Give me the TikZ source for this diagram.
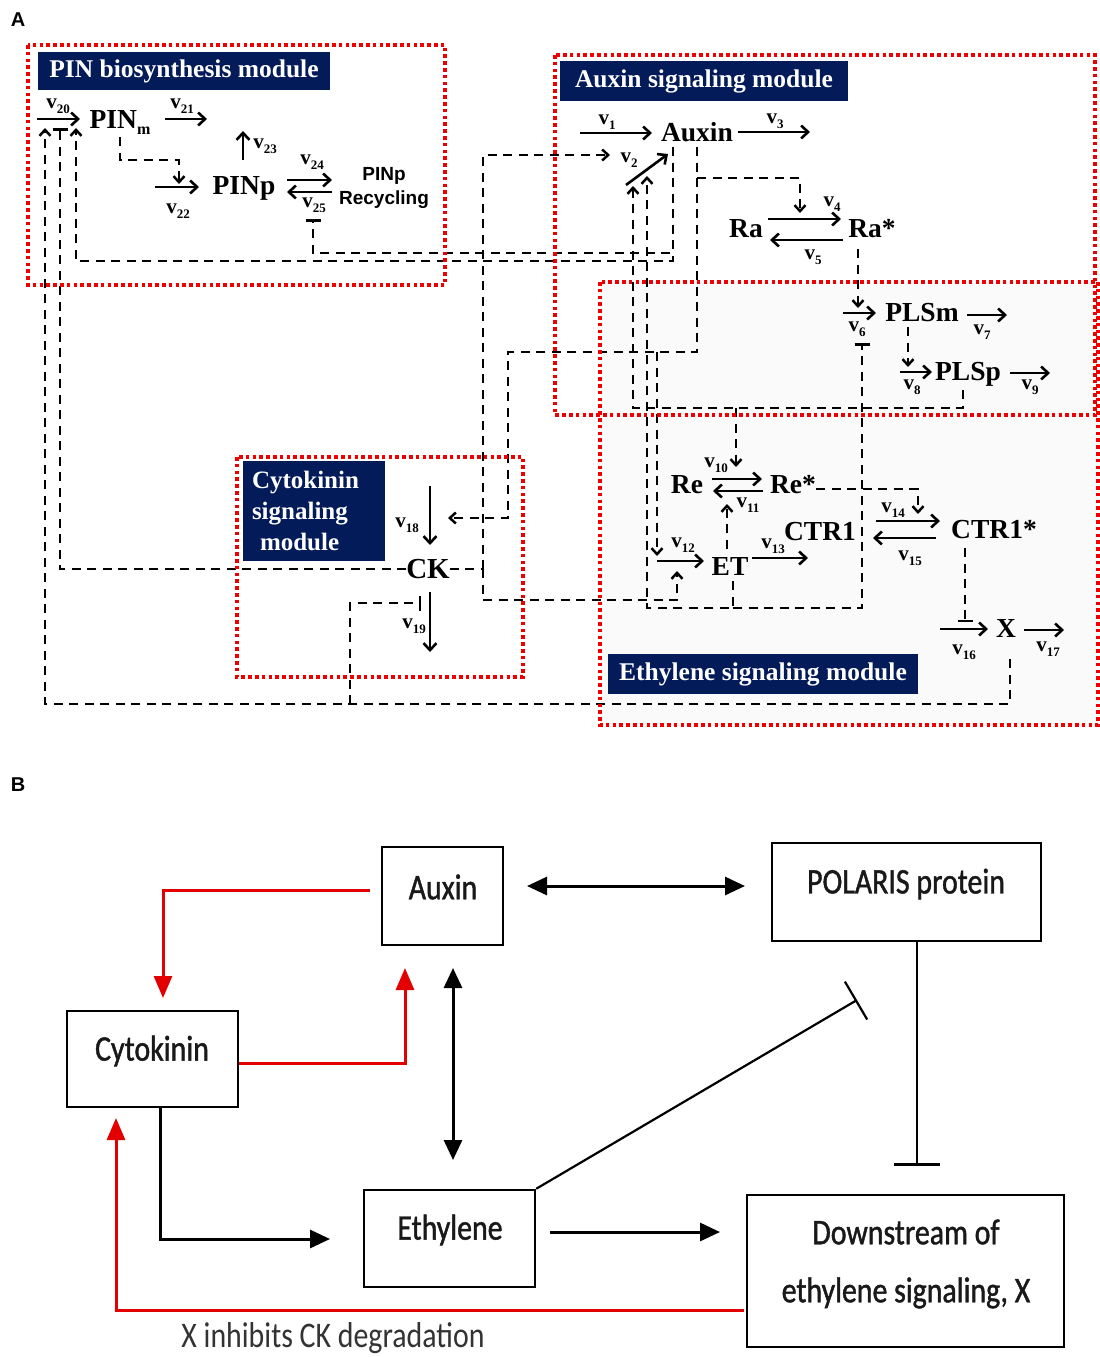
\documentclass[tikz,border=0pt]{standalone}
\usepackage{fontspec}
\setmainfont{Liberation Serif}
\newfontfamily\arialf{Liberation Sans}
\newfontfamily\carl[FakeStretch=0.83,FakeBold=1.2]{Carlito}
\newfontfamily\carlr[FakeStretch=0.83]{Carlito}
\usetikzlibrary{arrows.meta,calc}
\definecolor{navy}{RGB}{3,27,89}
\definecolor{rd}{RGB}{238,0,0}
\definecolor{bred}{RGB}{226,0,0}
\newcommand\vlab[1]{{\fontsize{21}{21}\selectfont v}\raisebox{-5pt}{\fontsize{13}{13}\selectfont #1}}
\begin{document}
\begin{tikzpicture}[x=1pt,y=-1pt,
  modbox/.style={draw=rd,line width=3.6pt,dash pattern=on 3.6pt off 3.2pt},
  ttl/.style={fill=navy,text=white,font=\fontsize{25.5}{25.5}\selectfont\bfseries,inner sep=0pt},
  sp/.style={font=\fontsize{27.5}{27.5}\selectfont\bfseries,inner sep=0pt,text height=18pt,text depth=0pt},
  lab/.style={inner sep=0pt,font=\bfseries},
  rx/.style={line width=2.6pt,-{Straight Barb[length=7pt,width=13pt]}},
  dk/.style={line width=2.5pt,dash pattern=on 9pt off 6.5pt},
  dka/.style={dk,-{Straight Barb[length=6pt,width=11pt]}},
  dkt/.style={dk,-{Bar[width=15pt]}},
  bx/.style={draw,line width=2.5pt,inner sep=0pt},
  btx/.style={font=\carl\fontsize{36}{36}\selectfont,inner sep=0pt,text=black!90},
  barr/.style={line width=3pt,-{Triangle[length=20pt,width=18pt]}},
  barrd/.style={line width=3pt,{Triangle[length=20pt,width=18pt]}-{Triangle[length=20pt,width=18pt]}},
  rarr/.style={bred,line width=3pt,-{Triangle[length=22pt,width=18pt]}},
  inh/.style={line width=2.2pt,-{Bar[width=44pt,line width=2.2pt]}},
  inhv/.style={line width=2.2pt,-{Bar[width=46pt,line width=2.6pt]}}
]
\useasboundingbox (0,0) rectangle (1100,1357);
\fill[white] (0,0) rectangle (1100,1357);

% ---------------- Panel A ----------------
\node[font=\arialf\bfseries\fontsize{20}{20}\selectfont,inner sep=0pt] (lA) at (18,20) {A};
\fill[black!2] (600,282) rectangle (1098,725);

% species
\node[sp] (PINm) at (120,119) {PIN\raisebox{-6pt}{\fontsize{16}{16}\selectfont m}};
\node[sp] (PINp) at (244,185) {PINp};
\node[inner sep=0pt,align=center,font=\arialf\bfseries\fontsize{19}{24}\selectfont] (Rec) at (384,188) {PINp\\Recycling};
\node[sp] (Auxin) at (697,132) {Auxin};
\node[sp] (Ra) at (746,228) {Ra};
\node[sp] (Ras) at (872,228) {Ra*};
\node[sp] (PLSm) at (922,312) {PLSm};
\node[sp] (PLSp) at (968,371) {PLSp};
\node[sp] (Re) at (687,484) {Re};
\node[sp] (Res) at (793,484) {Re*};
\node[sp] (CTR) at (820,531) {CTR1};
\node[sp] (CTRs) at (994,529) {CTR1*};
\node[sp] (ET) at (730,566) {ET};
\node[sp,font=\fontsize{29}{29}\selectfont\bfseries] (CK) at (428,569) {CK};
\node[sp] (X) at (1006,628) {X};

% endpoints of regulatory connectors
\coordinate (r20a) at (45,128);
\coordinate (r20b) at (60,128);
\coordinate (r20c) at (76,128);
\coordinate (r22) at (179,184);
\coordinate (r25) at (313,219);
\coordinate (r2a) at (610,155);
\coordinate (r2b) at (633,186);
\coordinate (r2c) at (647,176);
\coordinate (r4) at (800,213);
\coordinate (r6) at (858,308);
\coordinate (r6T) at (862,343);
\coordinate (r8) at (908,367);
\coordinate (r10) at (736,467);
\coordinate (r11) at (727,504);
\coordinate (r12a) at (657,556);
\coordinate (r12b) at (677,571);
\coordinate (r14) at (918,514);
\coordinate (r16) at (965,622);
\coordinate (r18) at (448,518);
\coordinate (r19) at (421,603);

% reaction arrows
\draw[rx] (37,119) -- (80,119);
\draw[rx] (165,119) -- (207,119);
\draw[rx] (243,160) -- (243,131);
\draw[rx] (155,187) -- (199,187);
\draw[rx] (287,180) -- (332,180);
\draw[rx] (332,192) -- (287,192);
\draw[rx] (580,133) -- (652,133);
\draw[rx] (738,132) -- (810,132);
\draw[rx] (626,185) -- (668,154);
\draw[rx] (768,219) -- (841,219);
\draw[rx] (843,240) -- (770,240);
\draw[rx] (843,313) -- (876,313);
\draw[rx] (967,315) -- (1007,315);
\draw[rx] (900,372) -- (932,372);
\draw[rx] (1010,373) -- (1050,373);
\draw[rx] (712,479) -- (762,479);
\draw[rx] (763,491) -- (713,491);
\draw[rx] (657,561) -- (704,561);
\draw[rx] (752,558) -- (808,558);
\draw[rx] (876,521) -- (940,521);
\draw[rx] (936,538) -- (873,538);
\draw[rx] (940,629) -- (988,629);
\draw[rx] (1024,630) -- (1064,630);
\draw[rx] (430,486) -- (430,545);
\draw[rx] (430,592) -- (430,652);

% reaction labels
\node[lab] (l20) at (58,106) {\vlab{20}};
\node[lab] (l21) at (182,106) {\vlab{21}};
\node[lab] (l23) at (265,146) {\vlab{23}};
\node[lab] (l22) at (178,211) {\vlab{22}};
\node[lab] (l24) at (312,162) {\vlab{24}};
\node[lab] (l25) at (314,205) {\vlab{25}};
\node[lab] (l1) at (607,122) {\vlab{1}};
\node[lab] (l3) at (775,121) {\vlab{3}};
\node[lab] (l2) at (629,160) {\vlab{2}};
\node[lab] (l4) at (832,204) {\vlab{4}};
\node[lab] (l5) at (813,257) {\vlab{5}};
\node[lab] (l6) at (857,329) {\vlab{6}};
\node[lab] (l7) at (982,332) {\vlab{7}};
\node[lab] (l8) at (912,387) {\vlab{8}};
\node[lab] (l9) at (1030,387) {\vlab{9}};
\node[lab] (l10) at (716,465) {\vlab{10}};
\node[lab] (l11) at (748,505) {\vlab{11}};
\node[lab] (l12) at (683,545) {\vlab{12}};
\node[lab] (l13) at (773,546) {\vlab{13}};
\node[lab] (l14) at (893,510) {\vlab{14}};
\node[lab] (l15) at (910,558) {\vlab{15}};
\node[lab] (l16) at (964,652) {\vlab{16}};
\node[lab] (l17) at (1048,649) {\vlab{17}};
\node[lab] (l18) at (407,525) {\vlab{18}};
\node[lab] (l19) at (414,626) {\vlab{19}};

% dashed regulatory connectors
\draw[dka] ([yshift=-9pt]PINm.south) -- (120,160) -- (179,160) -- (r22);
\draw[dka] ([xshift=-24pt,yshift=-6pt]Auxin.south) -- (673,261) -- (76,261) -- (r20c);
\draw[dkt] ([xshift=-24pt,yshift=-6pt]Auxin.south) -- (673,253) -- (313,253) -- (r25);
\draw[dka] ([yshift=-6pt]Auxin.south) -- (697,352) -- (508,352) -- (508,518) -- (r18);
\draw[dka] (697,178) -- (800,178) -- (r4);
\draw[dka] (657,352) -- (r12a);
\draw[dka] ([xshift=-5pt,yshift=-10pt]PLSp.south) -- (963,408) -- (633,408) -- (r2b);
\draw[dka] (736,408) -- (r10);
\draw[dka] ([xshift=3pt,yshift=-6pt]ET.south) -- (733,608) -- (647,608) -- (r2c);
\draw[dkt] (733,608) -- (862,608) -- (r6T);
\draw[dka] ([xshift=-3pt,yshift=8pt]ET.north) -- (r11);
\draw[dk] (CK.east) -- (483,569);
\draw[line width=2.5pt] (483,561) -- (483,577);
\draw[dka] (483,569) -- (483,155) -- (r2a);
\draw[dka] (483,569) -- (483,600) -- (677,600) -- (r12b);
\draw[dkt] (CK.west) -- (60,569) -- (r20b);
\draw[dka] ([xshift=4pt,yshift=-22pt]X.south) -- (1010,704) -- (45,704) -- (r20a);
\draw[dkt] (350,704) -- (350,603) -- (r19);
\draw[dka] ([xshift=-14pt,yshift=-12pt]Ras.south) -- (r6);
\draw[dka] ([xshift=-14pt,yshift=-6pt]PLSm.south) -- (r8);
\draw[dka] ([yshift=-5pt]Res.east) -- (918,489) -- (r14);
\draw[dkt] ([xshift=-29pt,yshift=-10pt]CTRs.south) -- (r16);

% module frames
\draw[modbox] (28,45) rectangle (445,285);
\draw[modbox] (555,55) rectangle (1095,415);
\draw[modbox] (600,282) rectangle (1098,725);
\draw[modbox] (237,457) rectangle (523,677);

% module titles
\node[ttl,minimum width=292pt,minimum height=38pt] (tPIN) at (184,71) {PIN biosynthesis module};
\node[ttl,minimum width=288pt,minimum height=40pt] (tAux) at (704,81) {Auxin signaling module};
\node[ttl,minimum width=142pt,minimum height=100pt,text width=124pt,align=left,font=\fontsize{25}{31}\selectfont\bfseries] (tCK) at (314,511) {Cytokinin\\signaling\\\hspace*{8pt}module};
\node[ttl,minimum width=310pt,minimum height=40pt] (tET) at (763,674) {Ethylene signaling module};

% ---------------- Panel B ----------------
\node[font=\arialf\bfseries\fontsize{20}{20}\selectfont,inner sep=0pt] (lB) at (18,785) {B};

\node[bx,minimum width=121pt,minimum height=98pt] (bAux) at (442.5,896) {};
\node[bx,minimum width=269pt,minimum height=98pt] (bPol) at (906.5,892) {};
\node[bx,minimum width=171pt,minimum height=96pt] (bCyt) at (152.5,1059) {};
\node[bx,minimum width=171pt,minimum height=97pt] (bEth) at (449.5,1238.5) {};
\node[bx,minimum width=317pt,minimum height=152pt] (bDown) at (905.5,1271) {};

\node[btx] (tbAux) at (443,887) {Auxin};
\node[btx] (tbPol) at (906,884) {POLARIS protein};
\node[btx] (tbCyt) at (152,1051) {Cytokinin};
\node[btx] (tbEth) at (450,1230) {Ethylene};
\node[btx,align=center,font=\carl\fontsize{36}{58}\selectfont] (tbDown) at (906,1264) {Downstream of\\ethylene signaling, X};

\draw[barrd] (527,886) -- (745,886);
\draw[barrd] (453,968) -- (453,1160);
\draw[rarr] ([xshift=-11pt,yshift=6pt]bAux.west) -- (163,890) -- (163,998);
\draw[rarr] ([yshift=-4pt]bCyt.east) -- (405,1063) -- (405,968);
\draw[barr] (160,1107) -- (160,1239) -- (330,1239);
\draw[barr] (550,1232) -- (720,1232);
\draw[inh] (bEth.north east) -- (857,1000);
\draw[inhv] (bPol.south -| 917,0) -- (917,1166);
\draw[rarr] ([xshift=-2pt,yshift=-39pt]bDown.west) -- (116,1310) -- (116,1118);

\node[font=\carlr\fontsize{36}{36}\selectfont,text=black!80,inner sep=0pt] (xlab) at (333,1338) {X inhibits CK degradation};
\end{tikzpicture}
\end{document}
